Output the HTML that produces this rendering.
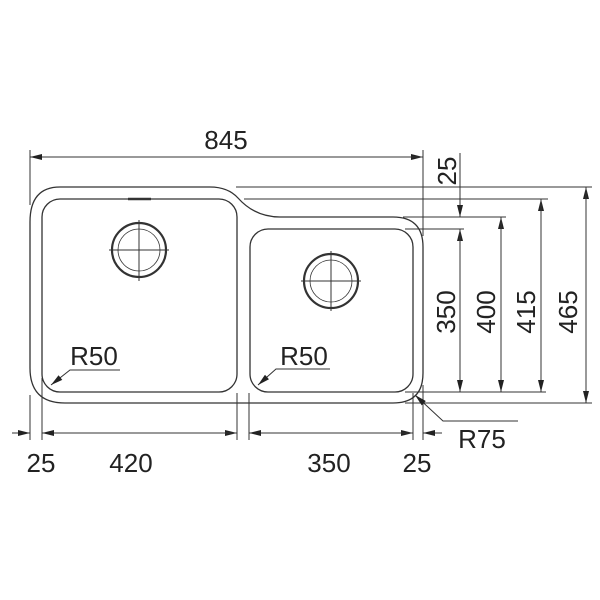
<!DOCTYPE html>
<html><head><meta charset="utf-8"><style>html,body{margin:0;padding:0;background:#fff}svg{display:block}</style></head>
<body>
<svg width="600" height="600" viewBox="0 0 600 600" xmlns="http://www.w3.org/2000/svg">
<defs>
<marker id="a" viewBox="0 0 12 6" refX="12" refY="3" markerWidth="13" markerHeight="6" markerUnits="userSpaceOnUse" orient="auto"><path d="M0,0 L12,3 L0,6 z" fill="#222"/></marker>
</defs>
<g fill="none" stroke="#333" stroke-width="1.3">
<path d="M60,187 L210,187 Q228,187 238,198 Q255,217 280,217 L393,217 Q423,217 423,247 L423,373 Q423,403 393,403 L65,403 Q30,403 30,368 L30,222 Q30,187 60,187 Z"/>
<rect x="42" y="199" width="195" height="193" rx="18"/>
<rect x="250" y="229" width="163" height="163" rx="18"/>
<circle cx="139" cy="250" r="27" stroke-width="2.2"/>
<circle cx="139" cy="250" r="21" stroke-width="0.8"/>
<circle cx="331" cy="281" r="27" stroke-width="2.2"/>
<circle cx="331" cy="281" r="21" stroke-width="0.8"/>
</g>
<g stroke="#333" stroke-width="1" fill="none">
<line x1="109" y1="250" x2="169" y2="250"/><line x1="139" y1="220" x2="139" y2="281"/>
<line x1="301" y1="281" x2="361" y2="281"/><line x1="331" y1="251" x2="331" y2="311"/>
<line x1="128" y1="199" x2="151" y2="199" stroke-width="2.5"/>
<line x1="30" y1="150" x2="30" y2="205"/>
<line x1="423" y1="150" x2="423" y2="236"/>
<line x1="30" y1="157" x2="423" y2="157" marker-end="url(#a)"/>
<line x1="423" y1="157" x2="30" y2="157" marker-end="url(#a)"/>
<line x1="236" y1="187" x2="592" y2="187"/>
<line x1="244" y1="199" x2="548" y2="199"/>
<line x1="403" y1="217" x2="506" y2="217"/>
<line x1="405" y1="229" x2="464" y2="229"/>
<line x1="405" y1="392" x2="546" y2="392"/>
<line x1="405" y1="403" x2="592" y2="403"/>
<line x1="460" y1="153" x2="460" y2="217" marker-end="url(#a)"/>
<line x1="460" y1="392" x2="460" y2="229" marker-end="url(#a)"/>
<line x1="460" y1="229" x2="460" y2="392" marker-end="url(#a)"/>
<line x1="501" y1="392" x2="501" y2="217" marker-end="url(#a)"/>
<line x1="501" y1="217" x2="501" y2="392" marker-end="url(#a)"/>
<line x1="541" y1="392" x2="541" y2="199" marker-end="url(#a)"/>
<line x1="541" y1="199" x2="541" y2="392" marker-end="url(#a)"/>
<line x1="586" y1="403" x2="586" y2="187" marker-end="url(#a)"/>
<line x1="586" y1="187" x2="586" y2="403" marker-end="url(#a)"/>
<line x1="30" y1="395" x2="30" y2="440"/>
<line x1="42" y1="378" x2="42" y2="440"/>
<line x1="237" y1="393" x2="237" y2="440"/>
<line x1="249" y1="393" x2="249" y2="440"/>
<line x1="413" y1="393" x2="413" y2="440"/>
<line x1="423" y1="385" x2="423" y2="440"/>
<line x1="12" y1="433" x2="30" y2="433" marker-end="url(#a)"/>
<line x1="42" y1="433" x2="237" y2="433" marker-end="url(#a)"/>
<line x1="237" y1="433" x2="42" y2="433" marker-end="url(#a)"/>
<line x1="249" y1="433" x2="413" y2="433" marker-end="url(#a)"/>
<line x1="413" y1="433" x2="249" y2="433" marker-end="url(#a)"/>
<line x1="442" y1="433" x2="423" y2="433" marker-end="url(#a)"/>
<polyline points="120,370 70,370 51,385" marker-end="url(#a)"/>
<polyline points="330,369 276,369 258,385" marker-end="url(#a)"/>
<polyline points="518,421 443,421 415,395" marker-end="url(#a)"/>
</g>
<g font-family="Liberation Sans, sans-serif" font-size="26" fill="#222">
<text x="226" y="149" text-anchor="middle">845</text>
<text x="94" y="365" text-anchor="middle">R50</text>
<text x="304" y="365" text-anchor="middle">R50</text>
<text x="482" y="448" text-anchor="middle">R75</text>
<text x="41" y="472" text-anchor="middle">25</text>
<text x="131" y="472" text-anchor="middle">420</text>
<text x="329" y="472" text-anchor="middle">350</text>
<text x="417" y="472" text-anchor="middle">25</text>
<text transform="translate(456,171) rotate(-90)" text-anchor="middle">25</text>
<text transform="translate(455,312) rotate(-90)" text-anchor="middle">350</text>
<text transform="translate(495,312) rotate(-90)" text-anchor="middle">400</text>
<text transform="translate(535,312) rotate(-90)" text-anchor="middle">415</text>
<text transform="translate(577,312) rotate(-90)" text-anchor="middle">465</text>
</g>
</svg>
</body></html>
